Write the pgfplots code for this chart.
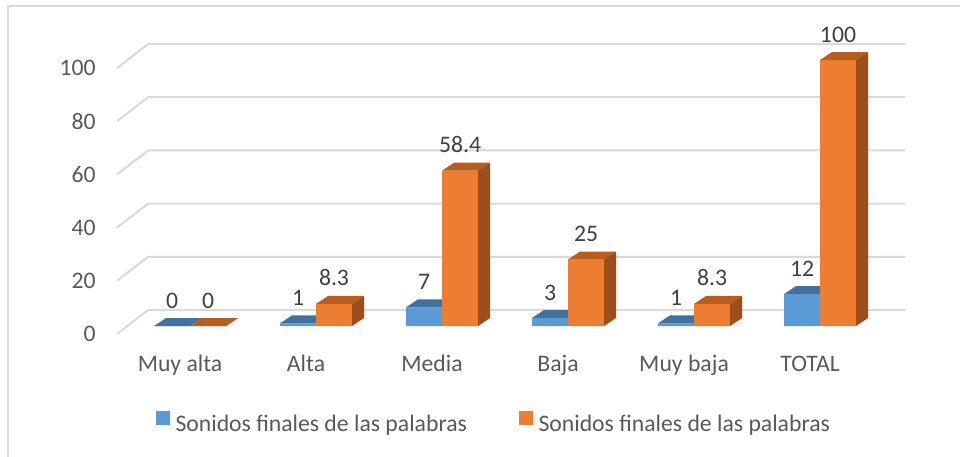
\documentclass[border=0pt]{standalone}
\usepackage{pgfplots}
\usepackage{pgfplotstable}
\pgfplotsset{compat=1.18}
\usepackage{fontspec}
\setmainfont{Carlito}
\definecolor{blueF}{HTML}{5B9BD5}
\definecolor{blueT}{HTML}{41719C}
\definecolor{orangeF}{HTML}{ED7D31}
\definecolor{orangeT}{HTML}{B85D20}
\definecolor{orangeS}{HTML}{9E4E1B}
\definecolor{gridc}{HTML}{D9D9D9}
\definecolor{txt}{HTML}{595959}
\definecolor{lbl}{HTML}{404040}

\pgfplotstableread{
x blue orange
0 0 0
1 1 8.3
2 7 58.4
3 3 25
4 1 8.3
5 12 100
}\datatable

\def\bw{0.2857}
\def\ddx{0.0952}
\def\ddy{3.0}

\newcommand{\bluetop}[2]{%
 \pgfmathsetmacro{\xa}{#1-\bw}%
 \pgfmathsetmacro{\xad}{#1-\bw+\ddx}%
 \pgfmathsetmacro{\xbd}{#1+\ddx}%
 \pgfmathsetmacro{\yd}{#2+\ddy}%
 \edef\doit{\noexpand\addplot[fill=blueT, draw=none, forget plot] coordinates {(\xa,#2) (#1,#2) (\xbd,\yd) (\xad,\yd)} -- cycle;}%
 \doit}

\newcommand{\orangefaces}[2]{%
 \pgfmathsetmacro{\xr}{#1+\bw}%
 \pgfmathsetmacro{\xmd}{#1+\ddx}%
 \pgfmathsetmacro{\xrd}{#1+\bw+\ddx}%
 \pgfmathsetmacro{\yd}{#2+\ddy}%
 \edef\doit{\noexpand\addplot[fill=orangeT, draw=none, forget plot] coordinates {(#1,#2) (\xr,#2) (\xrd,\yd) (\xmd,\yd)} -- cycle;
 \noexpand\addplot[fill=orangeS, draw=none, forget plot] coordinates {(\xr,0) (\xrd,\ddy) (\xrd,\yd) (\xr,#2)} -- cycle;}%
 \doit}

\begin{document}
\begin{tikzpicture}[font=\fontsize{11.85}{14.2}\selectfont]
\begin{axis}[
  x=63pt, y=1.33pt,
  xmin=-0.746, xmax=6.0, ymin=-16.92, ymax=112,
  clip=false,
  axis line style={draw=none},
  tick style={draw=none},
  major tick length=0pt,
  ytick={-3,17,37,57,77,97},
  yticklabels={0,20,40,60,80,100},
  yticklabel style={anchor=east, inner sep=0pt, text=txt},
  xtick={-0.079,0.921,1.921,2.921,3.921,4.921},
  xticklabels={Muy alta,Alta,Media,Baja,Muy baja,TOTAL},
  xticklabel style={anchor=base, inner sep=0pt, text=txt},
  /pgf/number format/assume math mode=true,
  legend columns=2,
  legend style={at={(0.4671,-0.1511)}, anchor=center, draw=none, fill=none,
    text=txt, nodes={inner sep=0pt},
    /tikz/every odd column/.append style={column sep=3pt},
    /tikz/every even column/.append style={column sep=26pt}},
]
% back wall grid lines
\addplot[gridc, line width=1pt, forget plot] coordinates {(-0.579,-3) (-0.333,6) (5.675,6)};
\addplot[gridc, line width=1pt, forget plot] coordinates {(-0.579,17) (-0.333,26) (5.675,26)};
\addplot[gridc, line width=1pt, forget plot] coordinates {(-0.579,37) (-0.333,46) (5.675,46)};
\addplot[gridc, line width=1pt, forget plot] coordinates {(-0.579,57) (-0.333,66) (5.675,66)};
\addplot[gridc, line width=1pt, forget plot] coordinates {(-0.579,77) (-0.333,86) (5.675,86)};
\addplot[gridc, line width=1pt, forget plot] coordinates {(-0.579,97) (-0.333,106) (5.675,106)};

% blue series
\addplot[ybar, bar width=0.2857, bar shift=-0.14286, fill=blueF, draw=none,
  nodes near coords, nodes near coords style={anchor=base, xshift=-9pt, yshift=9pt, text=lbl, inner sep=0pt},
  legend image code/.code={\fill[blueF] (0pt,0pt) rectangle (6.75pt,6.75pt);}]
  table[x=x, y=blue] {\datatable};
\addlegendentry{Sonidos finales de las palabras}
\bluetop{0}{0}
\bluetop{1}{1}
\bluetop{2}{7}
\bluetop{3}{3}
\bluetop{4}{1}
\bluetop{5}{12}

% orange series
\addplot[ybar, bar width=0.2857, bar shift=0.14286, fill=orangeF, draw=none,
  nodes near coords, nodes near coords style={anchor=base, xshift=9pt, yshift=9pt, text=lbl, inner sep=0pt},
  legend image code/.code={\fill[orangeF] (0pt,0pt) rectangle (6.75pt,6.75pt);}]
  table[x=x, y=orange] {\datatable};
\addlegendentry{Sonidos finales de las palabras}
\orangefaces{0}{0}
\orangefaces{1}{8.3}
\orangefaces{2}{58.4}
\orangefaces{3}{25}
\orangefaces{4}{8.3}
\orangefaces{5}{100}

% chart frame
\draw[gridc, line width=0.8pt] (axis cs:-1.444,-60) -- (axis cs:-1.444,120.3) -- (axis cs:7,120.3);
\coordinate (bbA) at (axis cs:-1.508,-48.87);
\coordinate (bbB) at (axis cs:6.111,122.56);
\end{axis}
\pgfresetboundingbox
\useasboundingbox (bbA) rectangle (bbB);
\end{tikzpicture}
\end{document}
